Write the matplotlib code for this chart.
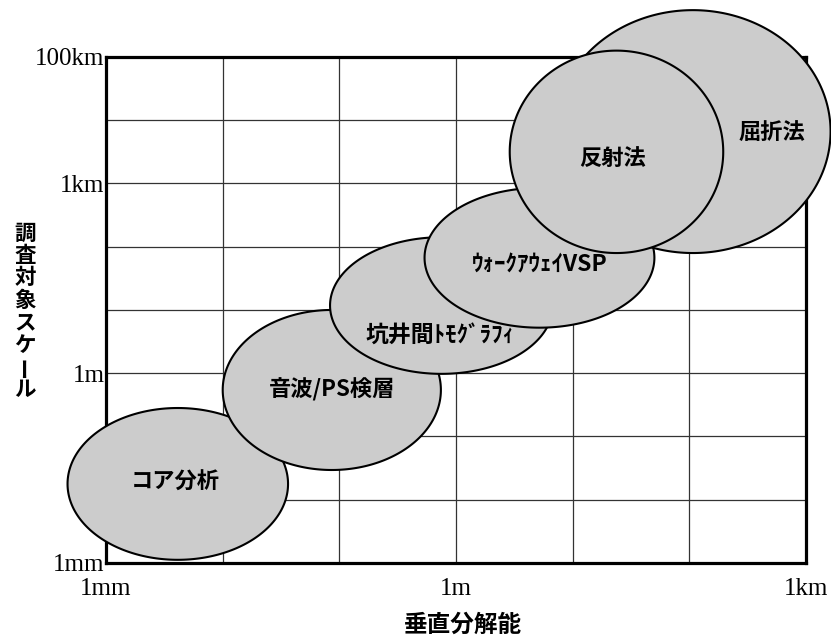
import numpy as np
import matplotlib.pyplot as plt

plt.rcParams['font.family'] = ['Noto Sans CJK JP', 'DejaVu Sans']

# survey methods: ranges in log10(metres)
methods = ['コア分析', '音波/PS検層', '坑井間ﾄﾓｸﾞﾗﾌｨ', 'ｳｫｰｸｱｳｪｲVSP', '屈折法', '反射法']
res_lo = [-3.33, -2.00, -1.08, -0.27, 0.85, 0.46]
res_hi = [-1.44, -0.13, 0.83, 1.70, 3.21, 2.29]
scale_lo = [-2.95, -1.53, -0.01, 0.72, 1.90, 1.90]
scale_hi = [-0.55, 1.00, 2.15, 2.93, 5.74, 5.10]
label_x = [-2.41, -1.06, -0.14, 0.72, 2.71, 1.34]
label_y = [-1.73, -0.27, 0.60, 1.72, 3.80, 3.40]
label_size = [16, 16, 16.5, 16.5, 16, 16]

x_ticks = [1e-3, 1e-2, 1e-1, 1, 1e1, 1e2, 1e3]
x_labels = ['1mm', '', '', '1m', '', '', '1km']
y_ticks = [1e-3, 1e-2, 1e-1, 1, 1e1, 1e2, 1e3, 1e4, 1e5]
y_labels = ['1mm', '', '', '1m', '', '', '1km', '', '100km']

fig = plt.figure(figsize=(8.31, 6.37), dpi=100)
ax = fig.add_axes([0.1276, 0.1162, 0.8424, 0.7944])
ax.set_xscale('log')
ax.set_yscale('log')
ax.set_xlim(1e-3, 1e3)
ax.set_ylim(1e-3, 1e5)

ax.set_xticks(x_ticks)
ax.set_xticklabels(x_labels, fontfamily='Liberation Serif', fontsize=18)
ax.set_yticks(y_ticks)
ax.set_yticklabels(y_labels, fontfamily='Liberation Serif', fontsize=18)
ax.minorticks_off()
ax.tick_params(axis='x', length=0, pad=11)
ax.tick_params(axis='y', length=0, pad=1)
ax.grid(True, color='#333333', linewidth=0.9)
ax.set_axisbelow(True)
for s in ax.spines.values():
    s.set_linewidth(2.3)
    s.set_color('black')

t = np.linspace(0, 2 * np.pi, 300)
for i in range(len(methods)):
    cx = (res_lo[i] + res_hi[i]) / 2
    cy = (scale_lo[i] + scale_hi[i]) / 2
    rx = (res_hi[i] - res_lo[i]) / 2
    ry = (scale_hi[i] - scale_lo[i]) / 2
    ax.fill(10 ** (cx + rx * np.cos(t)), 10 ** (cy + ry * np.sin(t)),
            facecolor='#cccccc', edgecolor='black', linewidth=1.5,
            clip_on=False, zorder=3 + i)
    ax.text(10 ** label_x[i], 10 ** label_y[i], methods[i], fontsize=label_size[i],
            fontweight='bold', ha='center', va='center', zorder=20)

# axis titles
fig.text(463 / 831, 1 - 625 / 637, '垂直分解能', fontsize=17, fontweight='bold',
         ha='center', va='center')
ylabel = '調査対象スケール'
for k, ch in enumerate(ylabel):
    fig.text(25 / 831, 1 - (233 + k * 22.4) / 637, ch, fontsize=15.5, fontweight='bold',
             ha='center', va='center', rotation=90 if ch == 'ー' else 0)

plt.savefig('out.png', dpi=100)
